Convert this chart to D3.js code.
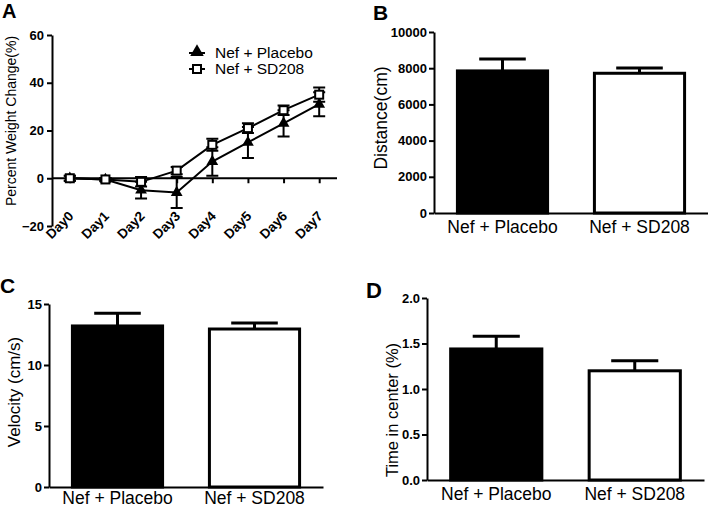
<!DOCTYPE html>
<html>
<head>
<meta charset="utf-8">
<script src="https://cdn.jsdelivr.net/npm/d3@7"></script>
<style>
  body { margin: 0; background: #fff; }
  svg { font-family: "Liberation Sans", Arial, Helvetica, sans-serif; }
</style>
</head>
<body>
<svg width="708" height="510"></svg>
<script>
// panel A data
const days = ['Day0', 'Day1', 'Day2', 'Day3', 'Day4', 'Day5', 'Day6', 'Day7'];
const placeboMean = [0, -0.5, -5, -6, 7, 15, 23, 31];
const placeboErr = [1, 0.6, 3.5, 6.5, 6, 6.5, 5.5, 5];
const sd208Mean = [0, -0.5, -1.5, 3.2, 14, 21, 28.5, 35];
const sd208Err = [1, 0.6, 2, 1.5, 2.5, 2, 2, 3];
const weightTicks = [-20, 0, 20, 40, 60];

// panels B-D data
const groups = ['Nef + Placebo', 'Nef + SD208'];
const distanceMean = [7850, 7720];
const distanceErr = [660, 290];
const distanceTicks = [0, 2000, 4000, 6000, 8000, 10000];
const velocityMean = [13.2, 12.95];
const velocityErr = [1.05, 0.5];
const velocityTicks = [0, 5, 10, 15];
const timeMean = [1.44, 1.2];
const timeErr = [0.14, 0.11];
const timeTicks = [0, 0.5, 1, 1.5, 2];

const svg = d3.select('svg');

function styleAxis(g, fs) {
  g.select('.domain').attr('stroke', '#000').attr('stroke-width', 2);
  g.selectAll('.tick line').attr('stroke', '#000').attr('stroke-width', 2);
  g.selectAll('.tick text')
    .attr('fill', '#000')
    .style('font-size', fs + 'px')
    .style('font-weight', 'bold');
}

function letter(t, x, y, fs) {
  svg.append('text')
    .attr('x', x).attr('y', y)
    .style('font-size', fs + 'px')
    .style('font-weight', 'bold')
    .text(t);
}

function yTitle(t, x, y, fs) {
  svg.append('text')
    .attr('transform', `translate(${x},${y}) rotate(-90)`)
    .attr('text-anchor', 'middle')
    .style('font-size', fs + 'px')
    .text(t);
}

// ---------- panel A ----------
(function() {
  const x = d3.scalePoint().domain(days).range([52, 337]).padding(0.5);
  const y = d3.scaleLinear().domain([-20, 60]).range([226, 35]);

  const yAxis = svg.append('g')
    .attr('transform', 'translate(52,0)')
    .call(d3.axisLeft(y).tickValues(weightTicks).tickSize(5).tickSizeOuter(0).tickPadding(3));
  styleAxis(yAxis, 13);

  const xAxis = svg.append('g')
    .attr('transform', `translate(0,${y(0)})`)
    .call(d3.axisBottom(x).tickSize(5).tickSizeOuter(0));
  styleAxis(xAxis, 13.5);
  xAxis.select('.domain').attr('d', `M52,0H337`);
  xAxis.selectAll('.tick text')
    .attr('x', 0).attr('y', 0).attr('dy', 0)
    .attr('text-anchor', 'end')
    .attr('transform', `translate(4,${217 - y(0)}) rotate(-45)`);

  yTitle('Percent Weight Change(%)', 16, 121, 14);

  const line = d3.line().x((d, i) => x(days[i])).y(d => y(d));

  function series(mean, err, shape) {
    const g = svg.append('g');
    g.append('path')
      .attr('d', line(mean))
      .attr('fill', 'none')
      .attr('stroke', '#000')
      .attr('stroke-width', 2);
    mean.forEach((m, i) => {
      const cx = x(days[i]);
      g.append('path')
        .attr('d', `M${cx},${y(m - err[i])}V${y(m + err[i])}` +
          `M${cx - 6},${y(m - err[i])}H${cx + 6}M${cx - 6},${y(m + err[i])}H${cx + 6}`)
        .attr('stroke', '#000')
        .attr('stroke-width', 2)
        .attr('fill', 'none');
      if (shape === 'tri') {
        g.append('path')
          .attr('d', d3.symbol(d3.symbolTriangle, 60)())
          .attr('transform', `translate(${cx},${y(m)})`)
          .attr('fill', '#000');
      } else {
        g.append('rect')
          .attr('x', cx - 4).attr('y', y(m) - 4)
          .attr('width', 8).attr('height', 8)
          .attr('fill', '#fff')
          .attr('stroke', '#000')
          .attr('stroke-width', 2);
      }
    });
  }
  series(placeboMean, placeboErr, 'tri');
  series(sd208Mean, sd208Err, 'sq');

  // legend
  const lg = svg.append('g');
  lg.append('path').attr('d', 'M189,53H205').attr('stroke', '#000').attr('stroke-width', 2);
  lg.append('path')
    .attr('d', d3.symbol(d3.symbolTriangle, 80)())
    .attr('transform', 'translate(197,52)')
    .attr('fill', '#000');
  lg.append('path').attr('d', 'M189,69H205').attr('stroke', '#000').attr('stroke-width', 2);
  lg.append('rect').attr('x', 193).attr('y', 65).attr('width', 8).attr('height', 8)
    .attr('fill', '#fff').attr('stroke', '#000').attr('stroke-width', 2);
  lg.selectAll('text').data(groups).join('text')
    .attr('x', 215)
    .attr('y', (d, i) => 58 + i * 16)
    .style('font-size', '15.5px')
    .text(d => d);

  letter('A', 2, 18, 20);
})();

// ---------- bar panels ----------
function barPanel(o) {
  const x = d3.scaleBand().domain(groups).range([o.x0, o.x1]).paddingInner(0.32).paddingOuter(0.16);
  const y = d3.scaleLinear().domain([0, o.max]).range([o.yb, o.yt]);

  const g = svg.append('g');
  g.selectAll('rect').data(o.mean).join('rect')
    .attr('x', (d, i) => x(groups[i]) + 1.5)
    .attr('width', x.bandwidth() - 3)
    .attr('y', d => y(d))
    .attr('height', d => y(0) - y(d))
    .attr('fill', (d, i) => i === 0 ? '#000' : '#fff')
    .attr('stroke', '#000')
    .attr('stroke-width', 3);

  const cw = x.bandwidth() / 4;
  g.selectAll('path.err').data(o.mean).join('path')
    .attr('class', 'err')
    .attr('d', (d, i) => {
      const cx = x(groups[i]) + x.bandwidth() / 2;
      return `M${cx},${y(d)}V${y(d + o.err[i])}M${cx - cw},${y(d + o.err[i])}H${cx + cw}`;
    })
    .attr('stroke', '#000')
    .attr('stroke-width', 3)
    .attr('fill', 'none');

  const yAxis = svg.append('g')
    .attr('transform', `translate(${o.x0},0)`)
    .call(d3.axisLeft(y).tickValues(o.ticks).tickFormat(o.fmt).tickSize(5).tickSizeOuter(0).tickPadding(2));
  styleAxis(yAxis, o.tfs);

  const xAxis = svg.append('g')
    .attr('transform', `translate(0,${o.yb})`)
    .call(d3.axisBottom(x).tickSize(0).tickSizeOuter(0).tickPadding(o.pad));
  styleAxis(xAxis, 17.5);
  xAxis.selectAll('.tick text').style('font-weight', 'normal');

  yTitle(o.title, o.tx, o.ty, o.tfs2);
  letter(o.letter, o.lx, o.ly, o.lfs);
}

barPanel({
  x0: 434, x1: 708, yt: 32, yb: 213, max: 10000,
  ticks: distanceTicks, fmt: d3.format('d'), tfs: 13, pad: 8,
  mean: distanceMean, err: distanceErr,
  title: 'Distance(cm)', tx: 387, ty: 118, tfs2: 17.5,
  letter: 'B', lx: 373, ly: 20, lfs: 21
});

barPanel({
  x0: 49, x1: 323, yt: 304, yb: 487, max: 15,
  ticks: velocityTicks, fmt: d3.format('d'), tfs: 13, pad: 5,
  mean: velocityMean, err: velocityErr,
  title: 'Velocity (cm/s)', tx: 20, ty: 392, tfs2: 17,
  letter: 'C', lx: 0, ly: 293, lfs: 21
});

barPanel({
  x0: 427, x1: 704, yt: 298, yb: 480, max: 2,
  ticks: timeTicks, fmt: d3.format('.1f'), tfs: 13, pad: 8,
  mean: timeMean, err: timeErr,
  title: 'Time in center (%)', tx: 398, ty: 410, tfs2: 16.5,
  letter: 'D', lx: 366, ly: 298, lfs: 22
});
</script>
</body>
</html>
